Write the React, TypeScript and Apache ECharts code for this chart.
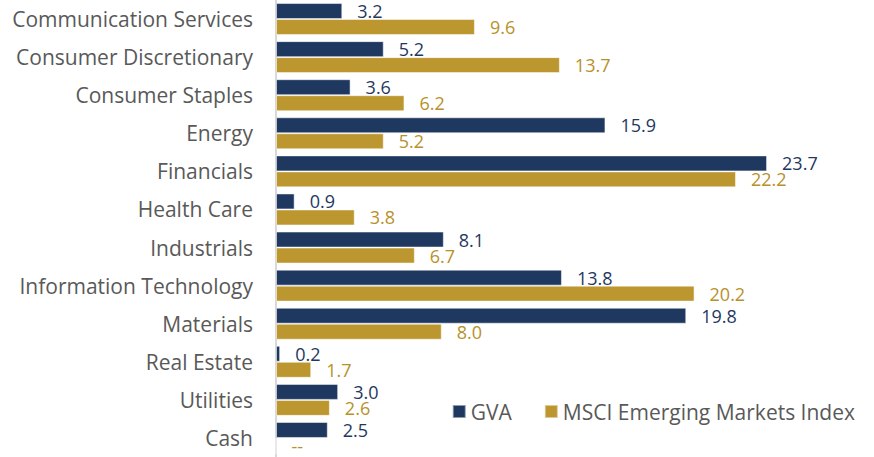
import React, { useEffect, useRef } from "react";
import * as echarts from "echarts";

const categories = [
  "Communication Services",
  "Consumer Discretionary",
  "Consumer Staples",
  "Energy",
  "Financials",
  "Health Care",
  "Industrials",
  "Information Technology",
  "Materials",
  "Real Estate",
  "Utilities",
  "Cash",
];
const gvaValues = [3.2, 5.2, 3.6, 15.9, 23.7, 0.9, 8.1, 13.8, 19.8, 0.2, 3.0, 2.5];
const msciValues: (number | null)[] = [9.6, 13.7, 6.2, 5.2, 22.2, 3.8, 6.7, 20.2, 8.0, 1.7, 2.6, null];

const NAVY = "#1f3860";
const GOLD = "#bc962e";
const FONT = "'Open Sans', sans-serif";

export default function App() {
  const ref = useRef<HTMLDivElement>(null);
  useEffect(() => {
    if (!ref.current) return;
    const chart = echarts.init(ref.current, undefined, { renderer: "svg" });
    chart.setOption({
      animation: false,
      textStyle: { fontFamily: FONT },
      grid: { left: 276, right: 80, top: 0, bottom: 0, containLabel: false },
      legend: {
        right: 14,
        top: 396,
        itemWidth: 13,
        itemHeight: 13,
        itemGap: 32,
        icon: "rect",
        textStyle: { color: "#595959", fontSize: 21, fontFamily: FONT },
        data: ["GVA", "MSCI Emerging Markets Index"],
      },
      xAxis: {
        type: "value",
        min: 0,
        max: 25,
        show: false,
      },
      yAxis: {
        type: "category",
        inverse: true,
        data: categories,
        axisLine: { show: true, lineStyle: { color: "#d9d9d9", width: 2 } },
        axisTick: { show: false },
        axisLabel: { color: "#595959", fontSize: 21, margin: 23, fontFamily: FONT },
      },
      series: [
        {
          name: "GVA",
          type: "bar",
          data: gvaValues,
          barGap: "0%",
          barCategoryGap: "16%",
          itemStyle: { color: NAVY, borderColor: "rgba(255,255,255,0.5)", borderWidth: 1 },
          label: {
            show: true,
            position: "right",
            distance: 15,
            color: NAVY,
            fontSize: 18,
            lineHeight: 14,
            fontFamily: FONT,
            formatter: (p: any) => Number(p.value).toFixed(1),
          },
        },
        {
          name: "MSCI Emerging Markets Index",
          type: "bar",
          data: msciValues.map((v) => (v === null ? { value: 0 } : v)),
          barGap: "0%",
          barCategoryGap: "16%",
          itemStyle: { color: GOLD, borderColor: "rgba(255,255,255,0.5)", borderWidth: 1 },
          label: {
            show: true,
            position: "right",
            distance: 15,
            color: "#b8912a",
            fontSize: 18,
            lineHeight: 14,
            fontFamily: FONT,
            formatter: (p: any) =>
              msciValues[p.dataIndex] === null ? "--" : Number(p.value).toFixed(1),
          },
        },
      ],
    });
    return () => chart.dispose();
  }, []);
  return <div ref={ref} style={{ width: 874, height: 457, position: "absolute", left: 0, top: 0 }} />;
}
